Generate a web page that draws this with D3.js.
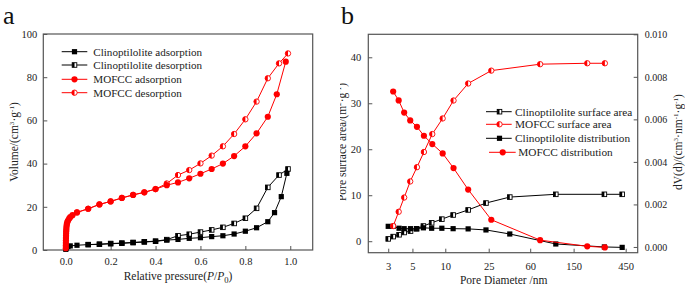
<!DOCTYPE html>
<html><head><meta charset="utf-8">
<script src="https://cdn.jsdelivr.net/npm/d3@7"></script>
<style>
html,body{margin:0;padding:0;background:#fff;}
svg{display:block;font-family:"Liberation Serif","Times New Roman",serif;}
</style></head>
<body>
<svg id="chart" width="685" height="289"></svg>
<script>
// ---------- Panel a data ----------
const mofccAdsP = [0.0002,0.0004,0.0006,0.0008,0.001,0.0013,0.0016,0.002,0.0025,0.003,0.004,0.005,0.007,0.01,0.015,0.02,0.03,0.05,0.1,0.15,0.2,0.25,0.3,0.35,0.4,0.45,0.5,0.55,0.6,0.65,0.7,0.75,0.8,0.85,0.9,0.94,0.98];
const mofccAdsV = [0.8,2,3.2,4.4,5.5,6.6,7.6,8.6,9.5,10.4,11.3,12.1,12.9,13.6,14.5,15.2,16.1,17.4,19.1,21.1,22.5,24.1,25.5,26.7,28.2,30.0,31.3,33.2,35.3,37.5,40.0,43.5,48.0,54.0,61.7,72.1,87.2];
const mofccDesP = [0.99,0.95,0.9,0.85,0.8,0.75,0.7,0.65,0.6,0.55,0.5,0.45,0.4,0.35,0.3,0.25,0.2,0.15,0.1,0.05];
const mofccDesV = [91.0,86.4,79.5,68.7,60.5,53.7,48.0,43.7,40.1,37.0,34.7,30.8,28.2,26.7,25.5,24.1,22.5,21.1,19.1,17.4];
const clinoAdsP = [0.0003,0.001,0.003,0.01,0.02,0.05,0.1,0.15,0.2,0.25,0.3,0.35,0.4,0.45,0.5,0.55,0.6,0.65,0.7,0.75,0.8,0.85,0.9,0.93,0.96,0.985];
const clinoAdsV = [0.3,0.8,1.2,1.6,1.9,2.2,2.5,2.6,2.9,3.1,3.4,3.7,4.0,4.6,4.9,5.4,5.7,6.2,6.6,7.4,8.7,10.3,13.1,17.3,24.7,35.5];
const clinoDesP = [0.99,0.95,0.9,0.85,0.8,0.75,0.7,0.65,0.6,0.55,0.5,0.45,0.4,0.35,0.3,0.25,0.2,0.15,0.1];
const clinoDesV = [37.5,34.7,29.0,19.3,14.7,12.3,10.5,9.3,8.3,7.3,6.6,4.8,4.1,3.8,3.5,3.2,3.0,2.7,2.5];
const aXTicks = [0,0.2,0.4,0.6,0.8,1.0];
const aYTicks = [0,20,40,60,80,100];
const aLegend = ["Clinoptilolite adsorption","Clinoptilolite desorption","MOFCC adsorption","MOFCC desorption"];

// ---------- Panel b data ----------
const clinoD = [3.0,3.33,3.77,4.2,4.8,5.46,6.3,7.5,9.3,11.8,16.2,23.6,39,103,287,418];
const clinoSurf = [0.5,1.0,1.4,1.9,2.2,2.7,3.3,4.0,4.8,5.7,6.8,8.3,9.6,10.2,10.2,10.2];
const clinoDist = [0.00097,0.00097,0.00088,0.00086,0.00086,0.00086,0.00090,0.00088,0.00088,0.00086,0.00085,0.00080,0.00061,0.00014,0.00000,-0.00002];
const mofccD = [3.33,3.74,4.2,4.77,5.5,6.37,7.6,9.46,11.9,16.2,26.4,74,200,290];
const mofccSurf = [3.3,6.4,9.5,13.0,16.1,19.4,23.3,26.7,30.6,34.3,37.1,38.5,38.7,38.7];
const mofccDist = [0.00731,0.00689,0.00632,0.00595,0.00565,0.00523,0.00484,0.00440,0.00371,0.00270,0.00128,0.00032,0.00003,-0.00002];
const bXTicks = [3,5,10,25,60,150,450];
const bYLeftTicks = [0,10,20,30,40];
const bYRightTicks = [0,0.002,0.004,0.006,0.008,0.010];
const bLegend = ["Clinoptilolite surface area","MOFCC surface area","Clinoptilolite distribution","MOFCC distribution"];

const RED = "#ff0000", BLK = "#000000", FRAME = "#555";
const svg = d3.select("#chart");

function marker(g, kind, color, x, y) {
  if (kind === "sq") {
    g.append("rect").attr("x", x-2.6).attr("y", y-2.6).attr("width",5.2).attr("height",5.2).attr("fill",color);
  } else if (kind === "hsq") {
    g.append("rect").attr("x", x-2.3).attr("y", y-2.3).attr("width",4.6).attr("height",4.6).attr("fill","#fff").attr("stroke",color).attr("stroke-width",0.9);
    g.append("rect").attr("x", x-2.3).attr("y", y-2.3).attr("width",2.3).attr("height",4.6).attr("fill",color);
  } else if (kind === "ci") {
    g.append("circle").attr("cx",x).attr("cy",y).attr("r",3.1).attr("fill",color);
  } else if (kind === "hci") {
    g.append("circle").attr("cx",x).attr("cy",y).attr("r",2.7).attr("fill","#fff").attr("stroke",color).attr("stroke-width",0.9);
    g.append("path").attr("d",`M${x},${y-2.7} A2.7,2.7 0 0 0 ${x},${y+2.7} Z`).attr("fill",color);
  }
}

function series(g, xs, ys, sx, sy, color, kind) {
  const pts = xs.map((v,i)=>[sx(v), sy(ys[i])]);
  g.append("path").attr("d", d3.line()(pts)).attr("fill","none").attr("stroke",color).attr("stroke-width",1);
  pts.forEach(p=>marker(g, kind, color, p[0], p[1]));
}

function richText(g, x, y, parts, size, rotate, anchor) {
  const t = g.append("text").attr("font-size", size).attr("text-anchor", anchor||"middle").attr("fill","#222")
    .attr("transform", `translate(${x},${y})` + (rotate ? ` rotate(${rotate})` : ""));
  let shift = 0;
  parts.forEach(p=>{
    const ts = t.append("tspan").text(p.t);
    let target = 0;
    if (p.sup) { ts.attr("font-size", size*0.62); target = -size*0.38; }
    if (p.sub) { ts.attr("font-size", size*0.75); target = size*0.25; }
    if (p.it) ts.attr("font-style","italic");
    if (target !== shift) { ts.attr("dy", target-shift); shift = target; }
  });
  return t;
}

// ================= Panel a =================
const ax = d3.scaleLinear().domain([-0.1,1.1]).range([43.3,312.7]);
const ay = d3.scaleLinear().domain([0,100]).range([250,34]);
const ga = svg.append("g");

ga.append("g").attr("transform","translate(0,250)")
  .call(d3.axisBottom(ax).tickValues(aXTicks).tickFormat(d3.format(".1f")).tickSizeInner(-4).tickSizeOuter(0).tickPadding(8))
  .call(s=>{s.select(".domain").remove(); s.selectAll("line").attr("stroke",FRAME); s.selectAll("text").attr("font-size",10.5).attr("font-family","Liberation Serif").attr("fill","#222");});
ga.append("g").attr("transform","translate(43.3,0)")
  .call(d3.axisLeft(ay).tickValues(aYTicks).tickSizeInner(-4).tickSizeOuter(0).tickPadding(6))
  .call(s=>{s.select(".domain").remove(); s.selectAll("line").attr("stroke",FRAME); s.selectAll("text").attr("font-size",10.5).attr("font-family","Liberation Serif").attr("fill","#222");});
ga.append("rect").attr("x",43.3).attr("y",34).attr("width",269.4).attr("height",216).attr("fill","none").attr("stroke",FRAME).attr("stroke-width",1.2);

series(ga, clinoDesP, clinoDesV, ax, ay, BLK, "hsq");
series(ga, clinoAdsP, clinoAdsV, ax, ay, BLK, "sq");
series(ga, mofccDesP, mofccDesV, ax, ay, RED, "hci");
series(ga, mofccAdsP, mofccAdsV, ax, ay, RED, "ci");

const aLegKinds = [["sq",BLK],["hsq",BLK],["ci",RED],["hci",RED]];
const aLegY = [51.7,65,79.3,92.7];
aLegend.forEach((name,i)=>{
  const y = aLegY[i];
  ga.append("line").attr("x1",61.7).attr("x2",87.3).attr("y1",y).attr("y2",y).attr("stroke",aLegKinds[i][1]).attr("stroke-width",1);
  marker(ga, aLegKinds[i][0], aLegKinds[i][1], 74.5, y);
  ga.append("text").attr("x",93.3).attr("y",y+3.8).attr("font-size",11.1).attr("fill","#222").text(name);
});

richText(ga, 178, 280, [{t:"Relative pressure("},{t:"P",it:true},{t:"/"},{t:"P",it:true},{t:"0",sub:true},{t:")"}], 11.5);
richText(ga, 18, 142, [{t:"Volume/(cm"},{t:"3",sup:true},{t:"·g"},{t:"-1",sup:true},{t:")"}], 11.5, -90);
ga.append("text").attr("x",3).attr("y",24).attr("font-size",26).attr("fill","#111").text("a");

// ================= Panel b =================
const bx = d3.scaleLog().domain([1.97,580]).range([368.3,637.7]);
const byL = d3.scaleLinear().domain([-2.5,45]).range([252.7,34.3]);
const byR = d3.scaleLinear().domain([-0.00027,0.010]).range([252.7,34.3]);
const gb = svg.append("g");

gb.append("g").attr("transform","translate(0,252.7)")
  .call(d3.axisBottom(bx).tickValues(bXTicks).tickFormat(d3.format("d")).tickSizeInner(-4).tickSizeOuter(0).tickPadding(10))
  .call(s=>{s.select(".domain").remove(); s.selectAll("line").attr("stroke",FRAME); s.selectAll("text").attr("font-size",10.5).attr("font-family","Liberation Serif").attr("fill","#222");});
gb.append("g").attr("transform","translate(368.3,0)")
  .call(d3.axisLeft(byL).tickValues(bYLeftTicks).tickSizeInner(-4).tickSizeOuter(0).tickPadding(7))
  .call(s=>{s.select(".domain").remove(); s.selectAll("line").attr("stroke",FRAME); s.selectAll("text").attr("font-size",10.5).attr("font-family","Liberation Serif").attr("fill","#222");});
gb.append("g").attr("transform","translate(637.7,0)")
  .call(d3.axisRight(byR).tickValues(bYRightTicks).tickFormat(d3.format(".3f")).tickSizeInner(-4).tickSizeOuter(0).tickPadding(7))
  .call(s=>{s.select(".domain").remove(); s.selectAll("line").attr("stroke",FRAME); s.selectAll("text").attr("font-size",10).attr("font-family","Liberation Serif").attr("fill","#222");});
gb.append("rect").attr("x",368.3).attr("y",34.3).attr("width",269.4).attr("height",218.4).attr("fill","none").attr("stroke",FRAME).attr("stroke-width",1.2);

series(gb, clinoD, clinoSurf, bx, byL, BLK, "hsq");
series(gb, clinoD, clinoDist, bx, byR, BLK, "sq");
series(gb, mofccD, mofccSurf, bx, byL, RED, "hci");
series(gb, mofccD, mofccDist, bx, byR, RED, "ci");

const bLegKinds = [["hsq",BLK],["hci",RED],["sq",BLK],["ci",RED]];
const bLegY = [111.7,124.3,138.3,152.3];
const bLegX = [[486,511.7,499.5,515],[486,511.7,499.5,515],[486,511.7,499.5,515],[489,515.7,502.7,518.3]];
bLegend.forEach((name,i)=>{
  const y = bLegY[i], L = bLegX[i];
  gb.append("line").attr("x1",L[0]).attr("x2",L[1]).attr("y1",y).attr("y2",y).attr("stroke",bLegKinds[i][1]).attr("stroke-width",1);
  marker(gb, bLegKinds[i][0], bLegKinds[i][1], L[2], y);
  gb.append("text").attr("x",L[3]).attr("y",y+3.8).attr("font-size",11.3).attr("fill","#222").text(name);
});

richText(gb, 503.7, 284, [{t:"Pore Diameter /nm"}], 11.5);
svg.append("clipPath").attr("id","clipB").append("rect").attr("x",340).attr("y",0).attr("width",345).attr("height",289);
const leftT = svg.append("g").attr("clip-path","url(#clipB)");
richText(leftT, 345.5, 142, [{t:"Pore surface area/(m"},{t:"2",sup:true},{t:"·g"},{t:"-1",sup:true},{t:")"}], 11.5, -90);
richText(gb, 682, 142, [{t:"dV(d)/(cm"},{t:"3",sup:true},{t:"·nm"},{t:"-1",sup:true},{t:"·g"},{t:"-1",sup:true},{t:")"}], 11.5, -90);
gb.append("text").attr("x",341).attr("y",24).attr("font-size",26).attr("fill","#111").text("b");
</script>
</body></html>
